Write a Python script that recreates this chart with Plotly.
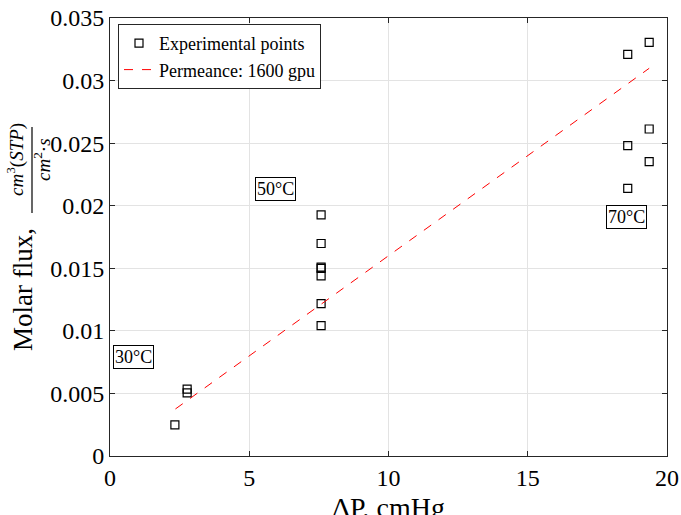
import plotly.graph_objects as go

# Experimental data (ΔP in cmHg, molar flux in cm3(STP)/(cm2·s))
dp_exp = [2.33, 2.77, 2.77,
          7.58, 7.58, 7.58, 7.58, 7.58, 7.58, 7.58,
          18.59, 19.36, 19.36, 18.59, 19.36, 18.59]
flux_exp = [0.00248, 0.00535, 0.00505,
            0.01926, 0.01698, 0.01510, 0.01500, 0.01440, 0.01218, 0.01042,
            0.03210, 0.03306, 0.02613, 0.02480, 0.02352, 0.02139]

# Permeance line (1600 gpu) endpoints
line_x = [2.35, 19.36]
line_y = [0.00376, 0.03098]

# Temperature labels
label_text = ["30°C", "50°C", "70°C"]
label_x = [0.86, 5.96, 18.56]
label_y = [0.00791, 0.02134, 0.0191]

x_ticks = [0, 5, 10, 15, 20]
y_ticks = [0, 0.005, 0.01, 0.015, 0.02, 0.025, 0.03, 0.035]
y_ticklabels = ["0", "0.005", "0.01", "0.015", "0.02", "0.025", "0.03", "0.035"]

SERIF = "Liberation Serif, Times New Roman, serif"
AX = "#262626"
GRID = "#e3e3e3"

fig = go.Figure()
fig.add_trace(go.Scatter(
    x=dp_exp, y=flux_exp, mode="markers", name="Experimental points",
    marker=dict(symbol="square-open", size=8, color="black", line=dict(width=1.2))))
fig.add_trace(go.Scatter(
    x=line_x, y=line_y, mode="lines", name="Permeance: 1600 gpu",
    line=dict(color="red", width=1, dash="dash")))

for t, xx, yy in zip(label_text, label_x, label_y):
    fig.add_annotation(x=xx, y=yy, text=t, showarrow=False, xref="x", yref="y",
                       font=dict(family=SERIF, size=18, color="black"),
                       bordercolor="black", borderwidth=1, borderpad=1, bgcolor="white")

L, R, T, B = 110, 14, 18, 59
W, H = 681, 515
pw, ph = W - L - R, H - T - B
def px(xp): return (xp - L) / pw
def py(yp): return (H - B - yp) / ph

# x-axis title
fig.add_annotation(x=px(388.5), y=py(490), xref="paper", yref="paper", text="ΔP, cmHg",
                   showarrow=False, xanchor="center", yanchor="top",
                   font=dict(family=SERIF, size=28, color="black"))

# y-axis title built from pieces
fig.add_annotation(x=px(23), y=py(290), xref="paper", yref="paper", text="Molar flux,",
                   textangle=-90, showarrow=False, xanchor="center", yanchor="middle",
                   font=dict(family=SERIF, size=27, color="black"))
fig.add_annotation(x=px(15), y=py(160), xref="paper", yref="paper",
                   text="<i>cm</i><sup>3</sup>(<i>STP</i>)",
                   textangle=-90, showarrow=False, xanchor="center", yanchor="middle",
                   font=dict(family=SERIF, size=19, color="black"))
fig.add_annotation(x=px(42), y=py(160), xref="paper", yref="paper",
                   text="<i>cm</i><sup>2</sup>·<i>s</i>",
                   textangle=-90, showarrow=False, xanchor="center", yanchor="middle",
                   font=dict(family=SERIF, size=19, color="black"))
fig.add_shape(type="line", xref="paper", yref="paper",
              x0=px(32), x1=px(32), y0=py(213), y1=py(127),
              line=dict(color="black", width=1.2))

fig.update_layout(
    width=W, height=H, margin=dict(l=L, r=R, t=T, b=B),
    paper_bgcolor="white", plot_bgcolor="white",
    font=dict(family=SERIF, color="black"),
    showlegend=True,
    legend=dict(x=px(118), y=py(24), xanchor="left", yanchor="top",
                bgcolor="white", bordercolor=AX, borderwidth=1,
                font=dict(family=SERIF, size=18, color="black"),
                tracegroupgap=0, itemwidth=30),
    xaxis=dict(range=[0, 20], tickvals=x_ticks, showgrid=True, gridcolor=GRID,
               showline=True, linecolor=AX, linewidth=1, mirror="ticks",
               ticks="inside", ticklen=5, tickcolor=AX, zeroline=False,
               automargin=False,
               tickfont=dict(family=SERIF, size=24, color="black")),
    yaxis=dict(range=[0, 0.035], tickvals=y_ticks, ticktext=y_ticklabels,
               showgrid=True, gridcolor=GRID,
               showline=True, linecolor=AX, linewidth=1, mirror="ticks",
               ticks="inside", ticklen=5, tickcolor=AX, zeroline=False,
               automargin=False,
               tickfont=dict(family=SERIF, size=24, color="black")),
)

fig.write_html("out.html")
